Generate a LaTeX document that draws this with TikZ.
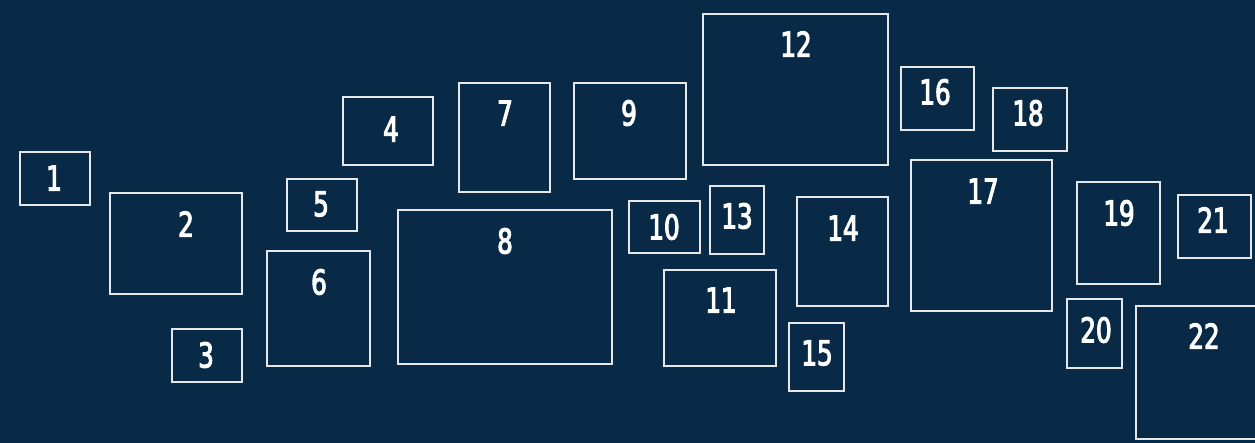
\documentclass[tikz,border=0pt]{standalone}
\usepackage{fontspec}
\newfontfamily\labfont[FakeStretch=0.8, FakeBold=3]{DejaVu Sans Condensed}
\definecolor{bgnavy}{HTML}{082A47}
\definecolor{edge}{HTML}{E6E8EA}
\tikzset{
  boxst/.style={draw=edge, line width=0.6pt, inner sep=0pt, fill=none},
  lab/.style={text=white, font=\labfont\fontsize{19.5}{21}\selectfont, inner sep=0pt, anchor=center},
}
% name, x1, y1, x2, y2, label x, label y, text
\newcommand\bx[8]{%
  \node[boxst, minimum width={(#4-#2)*0.02cm}, minimum height={(#5-#3)*0.02cm}]
    (b#1) at ({(#2+#4)/2},{(#3+#5)/2}) {};
  \node[lab] (t#1) at (#6,#7) {#8};
}
\begin{document}
\begin{tikzpicture}[x=0.02cm, y=-0.02cm]
\fill[bgnavy] (0,0) rectangle (1255,443);
\useasboundingbox (0,0) rectangle (1255,443);
\bx{1}{20}{152}{90}{205}{54}{178}{1}
\bx{2}{110}{193}{242}{294}{186}{224}{2}
\bx{3}{172}{329}{242}{382}{206}{355}{3}
\bx{4}{343}{97}{433}{165}{391}{129}{4}
\bx{5}{287}{179}{357}{231}{321}{204}{5}
\bx{6}{267}{251}{370}{366}{319}{282}{6}
\bx{7}{459}{83}{550}{192}{505}{113}{7}
\bx{8}{398}{210}{612}{364}{505}{241}{8}
\bx{9}{574}{83}{686}{179}{629}{113}{9}
\bx{10}{629}{201}{700}{253}{664}{227}{10}
\bx{11}{664}{270}{776}{366}{721}{300}{11}
\bx{12}{703}{14}{888}{165}{796}{44}{12}
\bx{13}{710}{186}{764}{254}{737}{216}{13}
\bx{14}{797}{197}{888}{306}{843}{228}{14}
\bx{15}{789}{323}{844}{391}{817}{353}{15}
\bx{16}{901}{67}{974}{130}{935}{92}{16}
\bx{17}{911}{160}{1052}{311}{983}{191}{17}
\bx{18}{993}{88}{1067}{151}{1028}{113}{18}
\bx{19}{1077}{182}{1160}{284}{1119}{213}{19}
\bx{20}{1067}{299}{1122}{368}{1096}{330}{20}
\bx{21}{1178}{195}{1251}{258}{1213}{220}{21}
\bx{22}{1136}{306}{1274}{439}{1204}{336}{22}
\end{tikzpicture}
\end{document}
